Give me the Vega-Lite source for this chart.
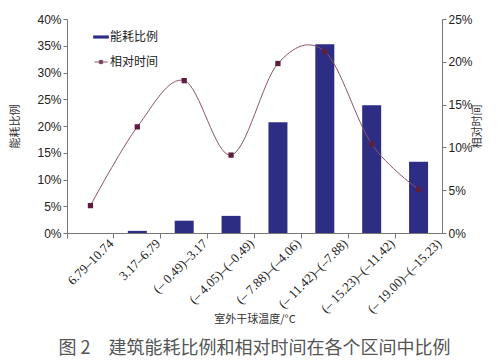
{
  "$schema": "https://vega.github.io/schema/vega-lite/v6.json",
  "width": 375,
  "height": 214,
  "padding": {"left": 9, "top": 13, "right": 5, "bottom": 5},
  "background": "white",
  "config": {"view": {"stroke": null}},
  "title": {
    "text": "图 2　建筑能耗比例和相对时间在各个区间中比例",
    "orient": "bottom",
    "anchor": "middle",
    "font": "Noto Sans CJK SC",
    "fontSize": 18,
    "fontWeight": "normal",
    "color": "#555555",
    "offset": 15
  },
  "data": {
    "values": [
      {"cat": "6.79–10.74", "energy": 0.0, "time": 0.032, "s1": "能耗比例", "s2": "相对时间"},
      {"cat": "3.17–6.79", "energy": 0.004, "time": 0.124, "s1": "能耗比例", "s2": "相对时间"},
      {"cat": "(– 0.49)–3.17", "energy": 0.023, "time": 0.178, "s1": "能耗比例", "s2": "相对时间"},
      {"cat": "(– 4.05)–(–0.49)", "energy": 0.032, "time": 0.091, "s1": "能耗比例", "s2": "相对时间"},
      {"cat": "(– 7.88)–(–4.06)", "energy": 0.207, "time": 0.198, "s1": "能耗比例", "s2": "相对时间"},
      {"cat": "(– 11.42)–(–7.88)", "energy": 0.353, "time": 0.212, "s1": "能耗比例", "s2": "相对时间"},
      {"cat": "(– 15.23)–(–11.42)", "energy": 0.239, "time": 0.104, "s1": "能耗比例", "s2": "相对时间"},
      {"cat": "(– 19.00)–(–15.23)", "energy": 0.133, "time": 0.051, "s1": "能耗比例", "s2": "相对时间"}
    ]
  },
  "encoding": {
    "x": {
      "field": "cat",
      "type": "nominal",
      "sort": null,
      "scale": {"paddingInner": 0, "paddingOuter": 0},
      "axis": {
        "title": "室外干球温度/°C",
        "titleFont": "Noto Sans CJK SC",
        "titleFontSize": 11,
        "titleFontWeight": "normal",
        "titleColor": "#333333",
        "titlePadding": -2,
        "labelAngle": -45,
        "labelAlign": "right",
        "labelBaseline": "middle",
        "labelFont": "Liberation Serif",
        "labelFontSize": 13,
        "labelColor": "#222222",
        "labelOffset": 21,
        "labelPadding": 3,
        "bandPosition": 0,
        "tickSize": 5,
        "tickColor": "#777777",
        "domainColor": "#777777",
        "labelOverlap": false
      }
    }
  },
  "layer": [
    {
      "mark": {"type": "bar", "size": 19},
      "encoding": {
        "y": {
          "field": "energy",
          "type": "quantitative",
          "scale": {"domain": [0, 0.4], "nice": false},
          "axis": {
            "title": "能耗比例",
            "titleFont": "Noto Sans CJK SC",
            "titleFontSize": 11,
            "titleFontWeight": "normal",
            "titleColor": "#333333",
            "titlePadding": 16,
            "format": ".0%",
            "values": [0, 0.05, 0.1, 0.15, 0.2, 0.25, 0.3, 0.35, 0.4],
            "labelFont": "Liberation Sans",
            "labelFontSize": 12,
            "labelColor": "#222222",
            "tickSize": 4,
            "tickColor": "#777777",
            "domainColor": "#777777",
            "grid": false
          }
        },
        "fill": {
          "field": "s1",
          "type": "nominal",
          "scale": {"range": ["#2e2d84"]},
          "legend": {
            "title": null,
            "orient": "none",
            "legendX": 28,
            "legendY": 12,
            "symbolType": "M-1.5,-0.3H1.5V0.3H-1.5Z",
            "symbolSize": 110,
            "symbolStrokeWidth": 0,
            "labelFont": "Noto Sans CJK SC",
            "labelFontSize": 12,
            "labelColor": "#222222",
            "labelOffset": 3
          }
        }
      }
    },
    {
      "mark": {"type": "line", "interpolate": "cardinal", "strokeWidth": 1, "color": "#8a5566"},
      "encoding": {
        "y": {
          "field": "time",
          "type": "quantitative",
          "scale": {"domain": [0, 0.25], "nice": false},
          "axis": {
            "orient": "right",
            "title": "相对时间",
            "titleAngle": -90,
            "titleFont": "Noto Sans CJK SC",
            "titleFontSize": 11,
            "titleFontWeight": "normal",
            "titleColor": "#333333",
            "titlePadding": 10,
            "format": ".0%",
            "values": [0, 0.05, 0.1, 0.15, 0.2, 0.25],
            "labelFont": "Liberation Sans",
            "labelFontSize": 12,
            "labelColor": "#222222",
            "tickSize": 4,
            "tickColor": "#777777",
            "domainColor": "#777777",
            "grid": false
          }
        },
        "stroke": {
          "field": "s2",
          "type": "nominal",
          "scale": {"range": ["#8a5566"]},
          "legend": {
            "title": null,
            "orient": "none",
            "legendX": 28,
            "legendY": 37,
            "symbolType": "M-1.2,0H1.2M-0.3,-0.3H0.3V0.3H-0.3Z",
            "symbolSize": 120,
            "symbolFillColor": "#5c1f3f",
            "symbolStrokeWidth": 1,
            "labelFont": "Noto Sans CJK SC",
            "labelFontSize": 12,
            "labelColor": "#222222",
            "labelOffset": 3
          }
        }
      }
    },
    {
      "mark": {"type": "square", "size": 28, "color": "#5c1f3f", "opacity": 1, "filled": true},
      "encoding": {
        "y": {"field": "time", "type": "quantitative", "scale": {"domain": [0, 0.25], "nice": false}, "axis": null}
      }
    }
  ],
  "resolve": {"scale": {"y": "independent"}}
}
